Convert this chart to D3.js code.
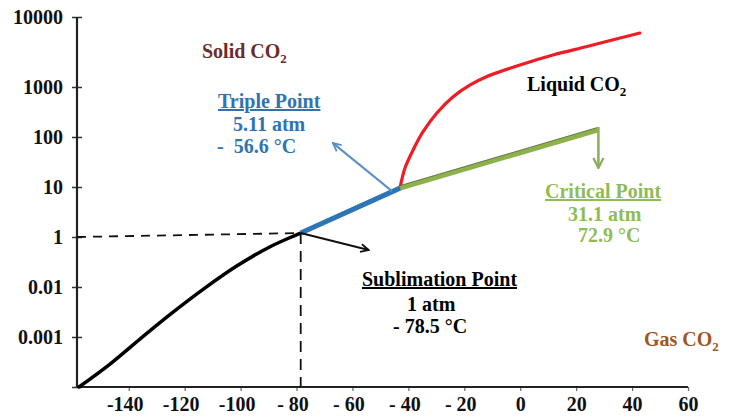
<!DOCTYPE html>
<html>
<head>
<meta charset="utf-8">
<script src="https://cdn.jsdelivr.net/npm/d3@7"></script>
<style>
  html, body { margin: 0; padding: 0; background: #fff; }
  svg { display: block; }
  text { font-family: "Liberation Serif", "Times New Roman", serif; font-weight: bold; }
</style>
</head>
<body>
<svg id="chart" width="735" height="419"></svg>
<script>
// ---------- DATA ----------
// x axis (temperature, °C)
const xTickValues = [-140, -120, -100, -80, -60, -40, -20, 0, 20, 40, 60];
const xTickLabels = ["-140", "-120", "-100", "- 80", "- 60", "- 40", "- 20", "0", "20", "40", "60"];
// y axis (pressure, atm) – unevenly labelled log axis
const yTickValues = [0.0001, 0.001, 0.01, 1, 10, 100, 1000, 10000];
const yTickLabels = ["", "0.001", "0.01", "1", "10", "100", "1000", "10000"];

// solid–gas (sublimation) curve
const sublimationT = [-157.8, -146.7, -136.0, -124.6, -112.8, -101.4, -89.6, -78.5];
const sublimationP = [0.0001, 0.000288, 0.00091, 0.0030, 0.0095, 0.069, 0.40, 1.2];
// sublimation point -> triple point segment
const blueT = [-78.5, -43];
const blueP = [1.2, 9.5];
// triple point -> critical point (liquid–gas)
const greenT = [-43, 27.6];
const greenP = [9.5, 138];
// solid–liquid (melting) curve
const meltingT = [-43, -41.2, -38.3, -34.8, -29.8, -24.1, -17.9, -11.9, -0.1, 11.7, 23.9, 35.7, 42.8];
const meltingP = [9.5, 24, 55, 126, 302, 631, 1069, 1413, 2063, 2865, 3793, 5012, 5904];

// ---------- LAYOUT ----------
const svg = d3.select("#chart");
const left = 77, right = 688, bottom = 387, step = 50, topStep = 70;
const fontSize = 20;

const x = d3.scaleLinear().domain([-158.5, 60]).range([left, right]);
// piecewise scale on log10(pressure): equal spacing between labelled ticks
const yLogDomain = yTickValues.map(v => Math.log10(v));
const yRange = yTickValues.map((v, i) => i < yTickValues.length - 1 ? bottom - i * step : bottom - (i - 1) * step - topStep);
const yLog = d3.scaleLinear().domain(yLogDomain).range(yRange);
const y = p => yLog(Math.log10(p));
const yTop = yRange[yRange.length - 1];

// ---------- AXES ----------
const yAxis = d3.axisLeft(yLog)
  .tickValues(yLogDomain)
  .tickFormat((d, i) => yTickLabels[i])
  .tickSizeInner(5).tickSizeOuter(0).tickPadding(9);
const gy = svg.append("g").attr("transform", `translate(${left},0)`).call(yAxis);
gy.select(".domain").remove();
gy.selectAll(".tick line").attr("x1", -5).attr("x2", 5).attr("stroke", "#333").attr("stroke-width", 1.5);
gy.selectAll(".tick text").attr("font-size", fontSize).attr("fill", "#111")
  .attr("font-family", "Liberation Serif").attr("font-weight", "bold").attr("dy", "0.33em");

const xAxis = d3.axisBottom(x)
  .tickValues(xTickValues)
  .tickFormat((d, i) => xTickLabels[i])
  .tickSizeInner(4).tickSizeOuter(0).tickPadding(6);
const gx = svg.append("g").attr("transform", `translate(0,${bottom})`).call(xAxis);
gx.select(".domain").remove();
gx.selectAll(".tick line").attr("stroke", "#666").attr("stroke-width", 1.2);
gx.selectAll(".tick text").attr("font-size", fontSize).attr("fill", "#111")
  .attr("font-family", "Liberation Serif").attr("font-weight", "bold").attr("dy", "0.71em")
  .attr("dx", (d, i) => i < 7 ? -4 : 0);

// axis lines
svg.append("line").attr("x1", left).attr("x2", left).attr("y1", yTop).attr("y2", bottom)
  .attr("stroke", "#222").attr("stroke-width", 2.2);
svg.append("line").attr("x1", left).attr("x2", right).attr("y1", bottom).attr("y2", bottom)
  .attr("stroke", "#222").attr("stroke-width", 2.2);

// ---------- MARKERS ----------
const defs = svg.append("defs");
function marker(id, color) {
  defs.append("marker").attr("id", id)
    .attr("viewBox", "0 0 10 10").attr("refX", 9).attr("refY", 5)
    .attr("markerWidth", 5).attr("markerHeight", 5).attr("orient", "auto")
    .attr("markerUnits", "strokeWidth")
    .append("path").attr("d", "M1,1 L9,5 L1,9").attr("fill", "none")
    .attr("stroke", color).attr("stroke-width", 1.8);
}
marker("arrBlack", "#111");
marker("arrBlue", "#5a8fc8");
marker("arrGreen", "#8eab5c");

const pts = (T, P) => T.map((t, i) => [x(t), y(P[i])]);

// ---------- DASHED GUIDES ----------
const sub = [x(sublimationT[sublimationT.length - 1]), y(sublimationP[sublimationP.length - 1])];
svg.append("line").attr("x1", left).attr("y1", y(1)).attr("x2", sub[0]).attr("y2", sub[1])
  .attr("stroke", "#111").attr("stroke-width", 1.8).attr("stroke-dasharray", "9,7");
svg.append("line").attr("x1", sub[0]).attr("y1", sub[1]).attr("x2", sub[0]).attr("y2", bottom)
  .attr("stroke", "#111").attr("stroke-width", 1.8).attr("stroke-dasharray", "11,7");

// ---------- CURVES ----------
const smooth = d3.line().curve(d3.curveCatmullRom.alpha(0.5));
const straight = d3.line();

svg.append("path").attr("d", smooth(pts(sublimationT, sublimationP)))
  .attr("fill", "none").attr("stroke", "#000").attr("stroke-width", 3.5).attr("stroke-linecap", "round");

svg.append("path").attr("d", smooth(pts(meltingT, meltingP)))
  .attr("fill", "none").attr("stroke", "#ee1c25").attr("stroke-width", 3.2).attr("stroke-linecap", "round");

svg.append("path").attr("d", straight(pts(greenT, greenP)))
  .attr("fill", "none").attr("stroke", "#8db24c").attr("stroke-width", 5);
svg.append("path").attr("d", straight(pts(greenT, greenP)))
  .attr("transform", "translate(0,-2.5)")
  .attr("fill", "none").attr("stroke", "#4d5a33").attr("stroke-width", 1).attr("opacity", 0.7);

svg.append("path").attr("d", straight(pts(blueT, blueP)))
  .attr("fill", "none").attr("stroke", "#2e75b6").attr("stroke-width", 5);

// ---------- ARROWS ----------
const triple = [x(blueT[1]), y(blueP[1])];
const crit = [x(greenT[1]), y(greenP[1])];

svg.append("line").attr("x1", sub[0]).attr("y1", sub[1]).attr("x2", sub[0] + 68).attr("y2", sub[1] + 17)
  .attr("stroke", "#111").attr("stroke-width", 2).attr("marker-end", "url(#arrBlack)");
svg.append("line").attr("x1", triple[0] - 8).attr("y1", triple[1] + 3).attr("x2", triple[0] - 67).attr("y2", triple[1] - 45)
  .attr("stroke", "#5a8fc8").attr("stroke-width", 2).attr("marker-end", "url(#arrBlue)");
svg.append("line").attr("x1", crit[0] + 1).attr("y1", crit[1] - 3).attr("x2", crit[0] + 1).attr("y2", crit[1] + 38)
  .attr("stroke", "#8eab5c").attr("stroke-width", 2.5).attr("marker-end", "url(#arrGreen)");

// ---------- TEXT ----------
function label(xp, yp, color, parts, opts = {}) {
  const t = svg.append("text").attr("x", xp).attr("y", yp).attr("fill", color)
    .attr("font-size", fontSize);
  if (opts.underline) t.attr("text-decoration", "underline");
  parts.forEach(p => {
    if (typeof p === "string") t.append("tspan").text(p);
    else if (p.sub) {
      t.append("tspan").attr("font-size", fontSize * 0.65).attr("dy", 5).text(p.sub);
    }
  });
  return t;
}
label(202, 58, "#6b2c2c", ["Solid CO", { sub: "2" }]);
label(527, 91, "#000", ["Liquid CO", { sub: "2" }]);
label(644, 346, "#a0561f", ["Gas CO", { sub: "2" }]);

const blueTxt = "#2e74b5";
label(218, 108, blueTxt, ["Triple Point"], { underline: true });
label(233, 131, blueTxt, ["5.11 atm"]);
label(217, 153, blueTxt, ["-\u00a0\u00a056.6 °C"]);

label(362, 286, "#000", ["Sublimation Point"], { underline: true });
label(407, 311, "#000", ["1 atm"]);
label(393, 333, "#000", ["- 78.5 °C"]);

const greenTxt = "#8fbc55";
label(545, 198, greenTxt, ["Critical Point"], { underline: true });
label(568, 221, greenTxt, ["31.1 atm"]);
label(578, 242, greenTxt, ["72.9 °C"]);
</script>
</body>
</html>
